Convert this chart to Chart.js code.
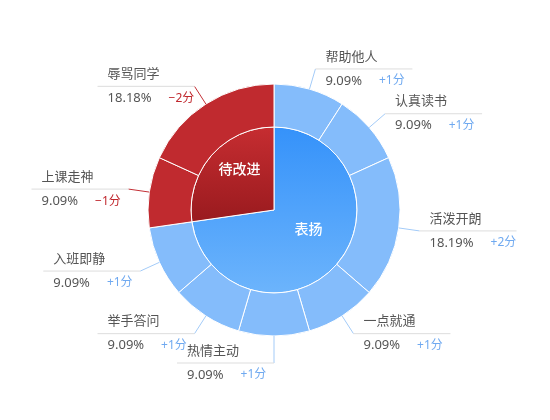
<!DOCTYPE html>
<html>
<head>
<meta charset="utf-8">
<script src="https://cdn.jsdelivr.net/npm/chart.js@4"></script>
<style>
  html, body { margin: 0; padding: 0; background: #fff; }
</style>
</head>
<body>
<canvas id="chart" width="550" height="420"></canvas>
<script>
// outer ring: behaviours, clockwise from 12 o'clock
const categories = ["帮助他人", "认真读书", "活泼开朗", "一点就通", "热情主动", "举手答问", "入班即静", "上课走神", "辱骂同学"]
const scores = [1, 1, 2, 1, 1, 1, 1, -1, -2]
const percentLabels = ["9.09%", "9.09%", "18.19%", "9.09%", "9.09%", "9.09%", "9.09%", "9.09%", "18.18%"]
const scoreLabels = ["+1分", "+1分", "+2分", "+1分", "+1分", "+1分", "+1分", "−1分", "−2分"]

// inner pie: groups
const groups = ["表扬", "待改进"]
const groupTotals = [8, 3]

const FONT = '"Noto Sans", "Noto Sans CJK SC", sans-serif'

const innerGradient = (ctx, positive) => {
  const { chart } = ctx
  const area = chart.chartArea
  if (!area) return positive ? "#4aa0fb" : "#b02428"
  const cy = (area.top + area.bottom) / 2
  const g = chart.ctx.createLinearGradient(0, cy - 83, 0, cy + 83)
  if (positive) {
    g.addColorStop(0, "#3592fa")
    g.addColorStop(1, "#6cb4fc")
  } else {
    g.addColorStop(0, "#c62d31")
    g.addColorStop(0.55, "#9b1b1f")
    g.addColorStop(1, "#8e171b")
  }
  return g
}

const sliceLabels = {
  id: "sliceLabels",
  afterDatasetsDraw(chart) {
    const ctx = chart.ctx
    ctx.save()
    ctx.lineWidth = 1
    ctx.textAlign = "left"
    ctx.textBaseline = "middle"

    chart.getDatasetMeta(0).data.forEach((arc, i) => {
      const { x, y, startAngle, endAngle, outerRadius } = arc.getProps(
        ["x", "y", "startAngle", "endAngle", "outerRadius"], true)
      const mid = (startAngle + endAngle) / 2
      const cos = Math.cos(mid)
      const sin = Math.sin(mid)
      // the label straight below the pie sits a little lower
      const reach = Math.abs(cos) < 0.01 ? 27 : 21
      const x0 = x + cos * outerRadius
      const y0 = y + sin * outerRadius
      const x1 = x + cos * (outerRadius + reach)
      const y1 = y + sin * (outerRadius + reach)
      const right = cos > 0.01
      const x2 = right ? x1 + 97 : x1 - 97
      const positive = scores[i] > 0

      ctx.strokeStyle = positive ? "#a3cbf8" : "#c33036"
      ctx.beginPath()
      ctx.moveTo(x0, y0)
      ctx.lineTo(x1, y1)
      ctx.stroke()

      ctx.strokeStyle = "#dddddd"
      ctx.beginPath()
      ctx.moveTo(x1, y1)
      ctx.lineTo(x2, y1)
      ctx.stroke()

      const tx = Math.min(x1, x2) + 10
      ctx.font = "13px " + FONT
      ctx.fillStyle = "#555"
      ctx.fillText(categories[i], tx, y1 - 12)
      ctx.fillText(percentLabels[i], tx, y1 + 12)
      const w = ctx.measureText(percentLabels[i]).width
      ctx.font = "12px " + FONT
      ctx.fillStyle = positive ? "#6fa9f0" : "#c0272d"
      ctx.fillText(scoreLabels[i], tx + w + 17, y1 + 12)
    })

    // group names inside the pie
    ctx.textAlign = "center"
    ctx.font = "500 14px " + FONT
    ctx.fillStyle = "#fff"
    chart.getDatasetMeta(1).data.forEach((arc, i) => {
      const { x, y, startAngle, endAngle, outerRadius } = arc.getProps(
        ["x", "y", "startAngle", "endAngle", "outerRadius"], true)
      const mid = (startAngle + endAngle) / 2
      const r = outerRadius * 0.55
      ctx.fillText(groups[i], x + Math.cos(mid) * r, y + Math.sin(mid) * r - 10)
    })
    ctx.restore()
  },
}

new Chart(document.getElementById("chart"), {
  type: "doughnut",
  data: {
    labels: categories,
    datasets: [
      {
        data: scores.map((s) => Math.abs(s)),
        backgroundColor: scores.map((s) => (s > 0 ? "#84bcfb" : "#c02a2f")),
        borderColor: "#fff",
        borderWidth: 1,
        weight: 43,
      },
      {
        data: groupTotals,
        backgroundColor: (ctx) => innerGradient(ctx, ctx.dataIndex === 0),
        borderColor: "#fff",
        borderWidth: 1,
        weight: 83,
      },
    ],
  },
  options: {
    responsive: false,
    animation: false,
    events: [],
    cutout: 0,
    radius: 126,
    layout: {
      padding: { top: 84, bottom: 84, left: 0, right: 2 },
    },
    plugins: {
      legend: { display: false },
      tooltip: { enabled: false },
    },
  },
  plugins: [sliceLabels],
})
</script>
</body>
</html>
